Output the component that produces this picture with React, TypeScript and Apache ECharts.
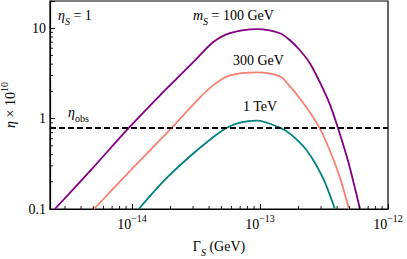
import React, { useEffect, useRef } from 'react';
import * as echarts from 'echarts';

// Γ_S (GeV) and η × 10^10
const gamma100 = [2.5e-15, 4.87e-15, 9.48e-15, 1.65e-14, 2.37e-14, 3.22e-14, 4.3e-14, 5.83e-14, 9.48e-14, 1.43e-13, 1.716e-13, 2.05e-13, 2.46e-13, 2.94e-13, 3.52e-13, 4.06e-13, 4.87e-13, 6.04e-13];
const eta100 = [0.1, 0.278, 0.794, 1.8, 3.0, 4.64, 6.99, 8.8, 9.75, 8.8, 7.36, 5.7, 4.08, 2.51, 1.43, 0.794, 0.341, 0.1];

const gamma300 = [5.05e-15, 1.02e-14, 2.05e-14, 3.22e-14, 4.3e-14, 5.83e-14, 9.48e-14, 1.43e-13, 1.716e-13, 2.05e-13, 2.46e-13, 2.94e-13, 3.52e-13, 4.22e-13, 4.96e-13];
const eta300 = [0.1, 0.286, 0.794, 1.585, 2.33, 3.0, 3.25, 2.93, 2.27, 1.67, 1.166, 0.774, 0.441, 0.221, 0.1];

const gamma1000 = [1.13e-14, 1.87e-14, 3.4e-14, 5.34e-14, 6.98e-14, 9.48e-14, 1.43e-13, 1.716e-13, 2.33e-13, 3.1e-13, 3.85e-13];
const eta1000 = [0.1, 0.221, 0.476, 0.774, 0.902, 0.95, 0.794, 0.681, 0.441, 0.221, 0.1];

const etaObs = 0.8;

const xMin = 2.29e-15;
const xMax = 1e-12;
const yMin = 0.1;
const yMax = 20;

const xMajorLabels: Record<number, string> = { [-14]: '−14', [-13]: '−13', [-12]: '−12' };
const yMajorLabels: Record<number, string> = { [-1]: '0.1', [0]: '1', [1]: '10' };

const xDecades = [1e-15, 1e-14, 1e-13];
const yDecades = [0.1, 1, 10];
const minorMultipliers = [2, 3, 4, 5, 6, 7, 8, 9];

const xMinor: number[] = [];
xDecades.forEach((d) => minorMultipliers.forEach((m) => { const v = m * d; if (v > xMin && v < xMax) xMinor.push(v); }));
const yMinor: number[] = [];
yDecades.forEach((d) => minorMultipliers.forEach((m) => { const v = m * d; if (v > yMin && v < yMax) yMinor.push(v); }));

const FONT = 'Liberation Serif';

const zip = (a: number[], b: number[]) => a.map((v, i) => [v, b[i]]);

const powerIndex = (v: number): number | null => {
  const l = Math.log10(v);
  const e = Math.round(l);
  return Math.abs(l - e) < 1e-6 ? e : null;
};

const subRich = {
  b: { fontSize: 14, lineHeight: 18, verticalAlign: 'top', fontFamily: FONT, color: '#000', fill: '#000' },
  i: { fontSize: 14, lineHeight: 18, verticalAlign: 'top', fontFamily: FONT, fontStyle: 'italic', color: '#000', fill: '#000' },
  sub: { fontSize: 10, lineHeight: 10, verticalAlign: 'bottom', fontFamily: FONT, fontStyle: 'italic', color: '#000', fill: '#000' },
  subr: { fontSize: 10, lineHeight: 10, verticalAlign: 'bottom', fontFamily: FONT, color: '#000', fill: '#000' },
};

const annText = (x: number, y: number, text: string) => ({
  type: 'text',
  x,
  y,
  silent: true,
  z: 10,
  style: {
    text,
    rich: subRich,
    fontFamily: FONT,
    fontSize: 14,
    fill: '#000',
    align: 'left',
    verticalAlign: 'middle',
  },
});

const minorTickSeries = (dir: 'x' | 'y') => ({
  type: 'custom',
  silent: true,
  clip: false,
  z: 5,
  data: dir === 'x' ? xMinor.map((v) => [v, 1]) : yMinor.map((v) => [1e-13, v]),
  renderItem: (params: any, api: any) => {
    const cs = params.coordSys;
    const p = api.coord([api.value(0), api.value(1)]);
    if (dir === 'x') {
      const y0 = cs.y + cs.height;
      return { type: 'line', shape: { x1: p[0], y1: y0, x2: p[0], y2: y0 - 3 }, style: { stroke: '#000', lineWidth: 0.9 } };
    }
    const x0 = cs.x;
    return { type: 'line', shape: { x1: x0, y1: p[1], x2: x0 + 3, y2: p[1] }, style: { stroke: '#000', lineWidth: 0.9 } };
  },
});

const curve = (data: number[][], color: string) => ({
  type: 'line',
  data,
  smooth: 0.3,
  showSymbol: false,
  symbol: 'none',
  clip: true,
  lineStyle: { color, width: 1.8 },
  z: 3,
});

export default function App() {
  const ref = useRef<HTMLDivElement>(null);
  useEffect(() => {
    if (!ref.current) return;
    const chart = echarts.init(ref.current, null, { renderer: 'svg' });
    chart.setOption({
      animation: false,
      backgroundColor: '#fff',
      textStyle: { fontFamily: FONT },
      grid: {
        left: 50, right: 19, top: 1, bottom: 50,
        containLabel: false,
        outerBoundsMode: 'none',
        show: true, borderColor: '#000', borderWidth: 1.2, backgroundColor: 'transparent',
      },
      xAxis: {
        type: 'log',
        logBase: 10,
        min: xMin,
        max: xMax,
        splitLine: { show: false },
        axisLine: { show: true, lineStyle: { color: '#000', width: 1.2 } },
        axisTick: { show: true, inside: true, length: 5, lineStyle: { color: '#000', width: 1 } },
        minorTick: { show: false },
        axisLabel: {
          margin: 4,
          fontFamily: FONT,
          formatter: (v: number) => {
            const e = powerIndex(v);
            return e !== null && xMajorLabels[e] ? `{b|10}{s|${xMajorLabels[e]}}` : '';
          },
          rich: {
            b: { fontSize: 14, lineHeight: 18, verticalAlign: 'bottom', fontFamily: FONT, color: '#000' },
            s: { fontSize: 10, lineHeight: 10, verticalAlign: 'top', fontFamily: FONT, color: '#000' },
          },
        },
        name: '{b|Γ}{sub|S}{b| (GeV)}',
        nameLocation: 'middle',
        nameGap: 30,
        nameTextStyle: { rich: subRich, fontFamily: FONT, fontSize: 14, color: '#000' },
      },
      yAxis: {
        type: 'log',
        logBase: 10,
        min: yMin,
        max: yMax,
        splitLine: { show: false },
        axisLine: { show: true, lineStyle: { color: '#000', width: 1.2 } },
        axisTick: { show: true, inside: true, length: 5, lineStyle: { color: '#000', width: 1 } },
        minorTick: { show: false },
        axisLabel: {
          margin: 4,
          fontFamily: FONT,
          fontSize: 14,
          color: '#000',
          formatter: (v: number) => {
            const e = powerIndex(v);
            return e !== null && yMajorLabels[e] ? yMajorLabels[e] : '';
          },
        },
        name: '{i|η}{b| × 10}{sup|10}',
        nameLocation: 'middle',
        nameGap: 29,
        nameRotate: 90,
        nameTextStyle: {
          fontFamily: FONT,
          fontSize: 14,
          color: '#000',
          rich: {
            b: { fontSize: 14, lineHeight: 18, verticalAlign: 'bottom', fontFamily: FONT, color: '#000' },
            i: { fontSize: 14, lineHeight: 18, verticalAlign: 'bottom', fontFamily: FONT, fontStyle: 'italic', color: '#000' },
            sup: { fontSize: 10, lineHeight: 10, verticalAlign: 'top', fontFamily: FONT, color: '#000' },
          },
        },
      },
      series: [
        curve(zip(gamma100, eta100), '#800080'),
        curve(zip(gamma300, eta300), '#FA8072'),
        curve(zip(gamma1000, eta1000), '#008080'),
        {
          type: 'line',
          data: [],
          markLine: {
            silent: true,
            symbol: 'none',
            label: { show: false },
            lineStyle: { color: '#000', width: 1.8, type: [6, 3] },
            data: [{ yAxis: etaObs }],
          },
          z: 4,
        },
        minorTickSeries('x'),
        minorTickSeries('y'),
      ],
      graphic: [
        annText(58, 17, '{i|η}{sub|S}{b| = 1}'),
        annText(193, 17, '{i|m}{sub|S}{b| = 100 GeV}'),
        annText(233, 62, '{b|300 GeV}'),
        annText(243, 108, '{b|1 TeV}'),
        annText(68, 114, '{i|η}{subr|obs}'),
      ],
    });
    return () => chart.dispose();
  }, []);
  return <div ref={ref} style={{ width: 407, height: 259, position: 'absolute', left: 0, top: 0 }} />;
}
